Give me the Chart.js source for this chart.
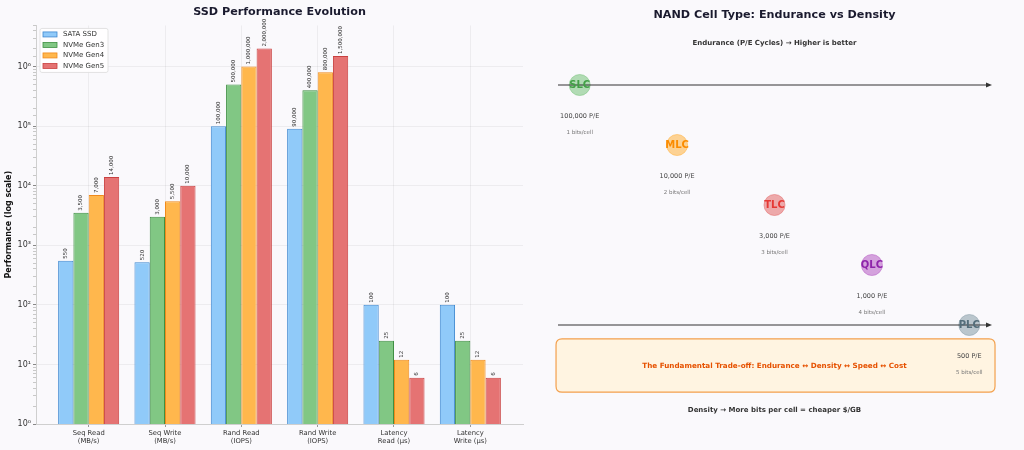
<!DOCTYPE html>
<html>
<head>
<meta charset="utf-8">
<title>SSD Performance Evolution</title>
<script src="https://cdn.jsdelivr.net/npm/chart.js@4.4.0/dist/chart.umd.min.js"></script>
<style>
    html, body { margin: 0; padding: 0; background: #faf9fc; }
    #wrap { position: relative; width: 1024px; height: 450px; }
    .panel { position: absolute; top: 0; height: 450px; }
    #left { left: 0; width: 530px; }
    #right { left: 530px; width: 494px; }
</style>
</head>
<body>
<div id="wrap">
    <div class="panel" id="left"><canvas id="perfChart"></canvas></div>
    <div class="panel" id="right"><canvas id="nandChart"></canvas></div>
</div>
<script>
// Left panel data
const categories = ['Seq Read\n(MB/s)', 'Seq Write\n(MB/s)', 'Rand Read\n(IOPS)', 'Rand Write\n(IOPS)', 'Latency\nRead (µs)', 'Latency\nWrite (µs)'];
const seriesNames = ['SATA SSD', 'NVMe Gen3', 'NVMe Gen4', 'NVMe Gen5'];
const sataValues = [550, 520, 100000, 90000, 100, 100];
const gen3Values = [3500, 3000, 500000, 400000, 25, 25];
const gen4Values = [7000, 5500, 1000000, 800000, 12, 12];
const gen5Values = [14000, 10000, 2000000, 1500000, 6, 6];

// Right panel data
const cellTypes = ['SLC', 'MLC', 'TLC', 'QLC', 'PLC'];
const bitsPerCell = [1, 2, 3, 4, 5];
const peCycles = [100000, 10000, 3000, 1000, 500];

const FONT = '"DejaVu Sans", sans-serif';
Chart.defaults.font.family = FONT;
Chart.defaults.color = '#333';

const seriesFill = ['#90caf9', '#81c784', '#ffb74d', '#e57373'];
const seriesBorder = ['#3f88d0', '#3f8f43', '#f08a1c', '#c94040'];

const cellFill = ['rgba(129,199,132,0.6)', 'rgba(255,183,77,0.6)', 'rgba(229,115,115,0.6)', 'rgba(186,104,200,0.6)', 'rgba(144,164,174,0.6)'];
const cellText = ['#43a047', '#fb8c00', '#e53935', '#8e24aa', '#546e7a'];

const SUP = { '0': '⁰', '1': '¹', '2': '²', '3': '³', '4': '⁴', '5': '⁵', '6': '⁶', '7': '⁷', '8': '⁸', '9': '⁹' };

function isDecade(v) {
    const e = Math.log10(v);
    return Math.abs(e - Math.round(e)) < 1e-6;
}

function decadeLabel(v) {
    if (!isDecade(v)) return '';
    return '10' + String(Math.round(Math.log10(v))).split('').map(c => SUP[c]).join('');
}

function roundRect(ctx, x, y, w, h, r) {
    ctx.beginPath();
    ctx.moveTo(x + r, y);
    ctx.lineTo(x + w - r, y);
    ctx.quadraticCurveTo(x + w, y, x + w, y + r);
    ctx.lineTo(x + w, y + h - r);
    ctx.quadraticCurveTo(x + w, y + h, x + w - r, y + h);
    ctx.lineTo(x + r, y + h);
    ctx.quadraticCurveTo(x, y + h, x, y + h - r);
    ctx.lineTo(x, y + r);
    ctx.quadraticCurveTo(x, y, x + r, y);
    ctx.closePath();
}

// rotated value labels above each bar
const barValueLabels = {
    id: 'barValueLabels',
    afterDatasetsDraw(chart) {
        const ctx = chart.ctx;
        ctx.save();
        ctx.font = '5.5px ' + FONT;
        ctx.fillStyle = '#333';
        ctx.textAlign = 'left';
        ctx.textBaseline = 'middle';
        chart.data.datasets.forEach((ds, i) => {
            chart.getDatasetMeta(i).data.forEach((bar, j) => {
                ctx.save();
                ctx.translate(bar.x, bar.y - 2);
                ctx.rotate(-Math.PI / 2);
                ctx.fillText(ds.data[j].y.toLocaleString('en-US'), 0, 0);
                ctx.restore();
            });
        });
        ctx.restore();
    }
};

// legend box in the upper left corner of the plot
const insideLegend = {
    id: 'insideLegend',
    afterDraw(chart) {
        const { ctx, chartArea } = chart;
        const x0 = chartArea.left + 4;
        const y0 = chartArea.top + 3;
        const rowH = 10.5;
        ctx.save();
        roundRect(ctx, x0, y0, 68, 44, 2);
        ctx.fillStyle = 'rgba(255,255,255,0.85)';
        ctx.fill();
        ctx.strokeStyle = '#dcdcdc';
        ctx.lineWidth = 0.8;
        ctx.stroke();
        ctx.font = '7px ' + FONT;
        ctx.textBaseline = 'middle';
        chart.data.datasets.forEach((ds, i) => {
            const cy = y0 + 6 + i * rowH;
            ctx.fillStyle = ds.backgroundColor;
            ctx.fillRect(x0 + 3, cy - 2.5, 14, 5);
            ctx.strokeStyle = ds.borderColor;
            ctx.lineWidth = 0.8;
            ctx.strokeRect(x0 + 3, cy - 2.5, 14, 5);
            ctx.fillStyle = '#333';
            ctx.fillText(ds.label, x0 + 23, cy);
        });
        ctx.restore();
    }
};

const seriesValues = [sataValues, gen3Values, gen4Values, gen5Values];

new Chart(document.getElementById('perfChart'), {
    type: 'bar',
    data: {
        datasets: seriesNames.map((name, i) => ({
            label: name,
            data: seriesValues[i].map((v, j) => ({ x: j, y: v })),
            backgroundColor: seriesFill[i],
            borderColor: seriesBorder[i],
            borderWidth: 1,
            categoryPercentage: 0.8,
            barPercentage: 1.0
        }))
    },
    options: {
        responsive: true,
        maintainAspectRatio: false,
        animation: false,
        layout: { padding: { left: 4, right: 7, top: 2, bottom: 0 } },
        plugins: {
            legend: { display: false },
            tooltip: { enabled: false },
            title: {
                display: true,
                text: 'SSD Performance Evolution',
                fullSize: false,
                color: '#1a1a2e',
                font: { size: 11.2, weight: 'bold' },
                padding: { top: 3, bottom: 7 }
            }
        },
        scales: {
            x: {
                type: 'linear',
                min: -0.69,
                max: 5.69,
                offset: false,
                afterBuildTicks: axis => { axis.ticks = categories.map((c, i) => ({ value: i })); },
                afterFit: axis => { axis.height = 26; },
                ticks: {
                    autoSkip: false,
                    maxRotation: 0,
                    padding: 2,
                    font: { size: 6.8 },
                    color: '#333',
                    callback: (v, i) => categories[i].split('\n')
                },
                grid: { offset: false, color: 'rgba(0,0,0,0.05)', tickLength: 3, tickColor: '#999' },
                border: { color: '#cfcfcf', width: 1 }
            },
            y: {
                type: 'logarithmic',
                min: 1,
                max: 4.9e6,
                afterFit: axis => { axis.width = 32; },
                title: {
                    display: true,
                    text: 'Performance (log scale)',
                    color: '#111',
                    font: { size: 8, weight: 'bold' },
                    padding: { top: 0, bottom: 2 }
                },
                ticks: {
                    autoSkip: false,
                    padding: 2,
                    font: { size: 8 },
                    color: '#333',
                    callback: v => decadeLabel(v)
                },
                grid: {
                    color: c => (c.tick && isDecade(c.tick.value)) ? 'rgba(0,0,0,0.05)' : 'rgba(0,0,0,0)',
                    tickLength: 3,
                    tickColor: c => (c.tick && isDecade(c.tick.value)) ? '#888' : '#c8c8c8'
                },
                border: { color: '#cfcfcf', width: 1 }
            }
        }
    },
    plugins: [barValueLabels, insideLegend]
});

// right panel: layout of text, box and arrows, in the scatter's own units
function drawText(ctx, str, x, y, font, color) {
    ctx.font = font;
    ctx.fillStyle = color;
    ctx.textAlign = 'center';
    ctx.textBaseline = 'middle';
    ctx.fillText(str, x, y);
}

function drawArrow(ctx, x1, x2, y) {
    ctx.strokeStyle = '#333';
    ctx.fillStyle = '#333';
    ctx.lineWidth = 1.2;
    ctx.beginPath();
    ctx.moveTo(x1, y);
    ctx.lineTo(x2 - 4, y);
    ctx.stroke();
    ctx.beginPath();
    ctx.moveTo(x2, y);
    ctx.lineTo(x2 - 6, y - 2.5);
    ctx.lineTo(x2 - 6, y + 2.5);
    ctx.closePath();
    ctx.fill();
}

const nandDecor = {
    id: 'nandDecor',
    beforeDatasetsDraw(chart) {
        const { ctx } = chart;
        const X = v => chart.scales.x.getPixelForValue(v);
        const Y = v => chart.scales.y.getPixelForValue(v);
        ctx.save();
        roundRect(ctx, X(0.757), Y(4.23), X(5.264) - X(0.757), Y(5.12) - Y(4.23), 6);
        ctx.fillStyle = '#fff4e1';
        ctx.fill();
        ctx.strokeStyle = '#f3a04d';
        ctx.lineWidth = 1.2;
        ctx.stroke();
        drawText(ctx, 'The Fundamental Trade-off: Endurance ↔ Density ↔ Speed ↔ Cost', X(3), Y(4.68), 'bold 7.2px ' + FONT, '#e65100');
        ctx.restore();
    },
    afterDatasetsDraw(chart) {
        const { ctx } = chart;
        const X = v => chart.scales.x.getPixelForValue(v);
        const Y = v => chart.scales.y.getPixelForValue(v);
        ctx.save();
        drawText(ctx, 'NAND Cell Type: Endurance vs Density', X(3), Y(-1.17), 'bold 11.2px ' + FONT, '#1a1a2e');
        drawText(ctx, 'Endurance (P/E Cycles) → Higher is better', X(3), Y(-0.7), 'bold 7px ' + FONT, '#333');
        drawText(ctx, 'Density → More bits per cell = cheaper $/GB', X(3), Y(5.42), 'bold 7px ' + FONT, '#333');
        drawArrow(ctx, X(0.777), X(5.233), Y(0));
        drawArrow(ctx, X(0.777), X(5.233), Y(cellTypes.length - 1));
        chart.getDatasetMeta(0).data.forEach((pt, i) => {
            drawText(ctx, cellTypes[i], pt.x, pt.y, 'bold 10px ' + FONT, cellText[i]);
            drawText(ctx, peCycles[i].toLocaleString('en-US') + ' P/E', pt.x, Y(i + 0.53), '6.5px ' + FONT, '#444');
            drawText(ctx, bitsPerCell[i] + ' bits/cell', pt.x, Y(i + 0.8), '5.5px ' + FONT, '#777');
        });
        ctx.restore();
    }
};

new Chart(document.getElementById('nandChart'), {
    type: 'scatter',
    data: {
        datasets: [{
            label: 'NAND cells',
            data: cellTypes.map((c, i) => ({ x: bitsPerCell[i], y: i })),
            pointRadius: 10.5,
            pointBackgroundColor: cellFill,
            pointBorderColor: cellFill,
            pointBorderWidth: 1
        }]
    },
    options: {
        responsive: true,
        maintainAspectRatio: false,
        animation: false,
        layout: { autoPadding: false, padding: { left: 1, right: 6, top: 25, bottom: 35 } },
        plugins: {
            legend: { display: false },
            tooltip: { enabled: false }
        },
        scales: {
            x: { type: 'linear', min: 0.5, max: 5.5, display: false },
            y: { type: 'linear', min: -1, max: 5.5, reverse: true, display: false }
        }
    },
    plugins: [nandDecor]
});
</script>
</body>
</html>
